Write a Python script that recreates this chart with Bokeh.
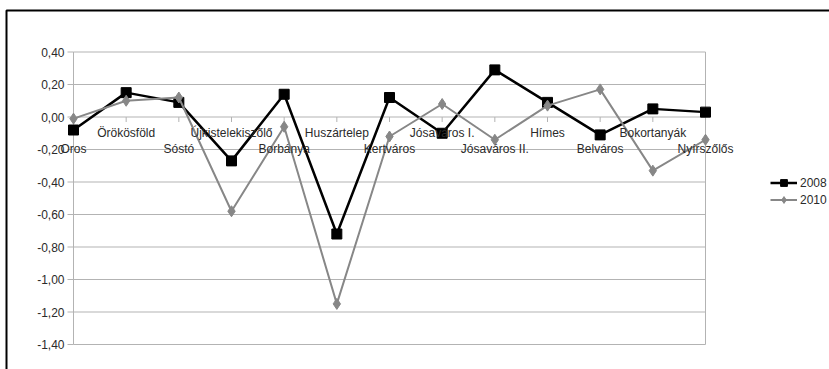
from bokeh.plotting import figure
from bokeh.models import Range1d, Legend, LegendItem, BoxAnnotation
from bokeh.core.properties import value
from bokeh.embed import file_html
from bokeh.resources import INLINE

# ---- data ----
districts = ["Oros", "Örökösföld", "Sóstó", "Újkistelekiszőlő", "Borbánya", "Huszártelep",
             "Kertváros", "Jósaváros I.", "Jósaváros II.", "Hímes", "Belváros",
             "Bokortanyák", "Nyírszőlős"]
v2008 = [-0.08, 0.15, 0.09, -0.27, 0.14, -0.72, 0.12, -0.10, 0.29, 0.09, -0.11, 0.05, 0.03]
v2010 = [-0.01, 0.10, 0.12, -0.58, -0.06, -1.15, -0.12, 0.08, -0.14, 0.07, 0.17, -0.33, -0.14]
y_ticks = [-1.4, -1.2, -1.0, -0.8, -0.6, -0.4, -0.2, 0.0, 0.2, 0.4]
y_tick_labels = ["-1,40", "-1,20", "-1,00", "-0,80", "-0,60", "-0,40", "-0,20", "0,00", "0,20", "0,40"]
series_names = ["2008", "2010"]

# ---- layout (pixels) ----
W, H = 829, 369
PLOT_L, PLOT_R, PLOT_T, PLOT_B = 73, 705, 51.5, 344
FONT = "Liberation Sans"
GRID = "#b3b3b3"
TXT = "#2a2a2a"

n = len(districts)
idx = list(range(n))
ymin, ymax = min(y_ticks), max(y_ticks)
px_x = (PLOT_R - PLOT_L) / (n - 1)
px_y = (PLOT_B - PLOT_T) / (ymax - ymin)
x_range = Range1d(0 - PLOT_L / px_x, (n - 1) + (W - PLOT_R) / px_x)
y_range = Range1d(ymin - (H - PLOT_B) / px_y, ymax + PLOT_T / px_y)

p = figure(width=W, height=H, output_backend="svg", toolbar_location=None,
           x_range=x_range, y_range=y_range, x_axis_type=None, y_axis_type=None,
           min_border=0)
p.min_border_left = p.min_border_right = p.min_border_top = p.min_border_bottom = 0
p.outline_line_color = None
p.background_fill_color = "white"
p.border_fill_color = "white"
p.grid.visible = False

# horizontal grid lines (value axis)
p.segment(x0=[0] * len(y_ticks), y0=y_ticks, x1=[n - 1] * len(y_ticks), y1=y_ticks,
          line_color=GRID, line_width=1)
# plot area side walls
p.segment(x0=[0, n - 1], y0=[ymin, ymin], x1=[0, n - 1], y1=[ymax, ymax],
          line_color=GRID, line_width=1)
# value-axis tick marks and labels
tick_x = 6 / px_x
p.segment(x0=[-tick_x] * len(y_ticks), y0=y_ticks, x1=[0] * len(y_ticks), y1=y_ticks,
          line_color=GRID, line_width=1)
p.text(x=[0] * len(y_ticks), y=y_ticks, text=y_tick_labels, x_offset=-9,
       text_align="right", text_baseline="middle", text_font=value(FONT),
       text_font_size="12px", text_color=TXT)

# category ticks on the zero line
tick_y = 5 / px_y
p.segment(x0=idx, y0=[0] * n, x1=idx, y1=[-tick_y] * n, line_color=GRID, line_width=1)

# series
l1 = p.line(idx, v2008, line_color="black", line_width=2.5)
s1 = p.scatter(idx, v2008, marker="square", size=10, fill_color="black", line_color="black")
l2 = p.line(idx, v2010, line_color="#878787", line_width=2)
s2 = p.scatter(idx, v2010, marker="diamond", size=11, fill_color="#878787", line_color="#878787")

# category labels, staggered under the zero line
p.text(x=idx, y=[0] * n, text=districts,
       y_offset=[31.5 if i % 2 == 0 else 15.5 for i in idx],
       text_align="center", text_baseline="middle", text_font=value(FONT),
       text_font_size="12px", text_color=TXT)

legend = Legend(items=[LegendItem(label=series_names[0], renderers=[l1, s1]),
                       LegendItem(label=series_names[1], renderers=[l2, s2])],
                location=(770, H - 208), orientation="vertical",
                glyph_width=27, glyph_height=17, label_height=17, label_standoff=3,
                padding=0, margin=0, spacing=0,
                border_line_alpha=0, background_fill_alpha=0,
                label_text_font=FONT, label_text_font_size="12px",
                label_text_color=TXT)
p.add_layout(legend)

# outer black frame (only top/left edges fall inside the picture)
frame_box = BoxAnnotation(left=6, right=W + 50, top=10, bottom=H + 50,
                          left_units="canvas", right_units="canvas",
                          top_units="canvas", bottom_units="canvas",
                          fill_alpha=0, line_color="black", line_alpha=1.0,
                          line_width=2, level="overlay")
p.add_layout(frame_box)

open("out.html", "w").write(file_html(p, INLINE))
